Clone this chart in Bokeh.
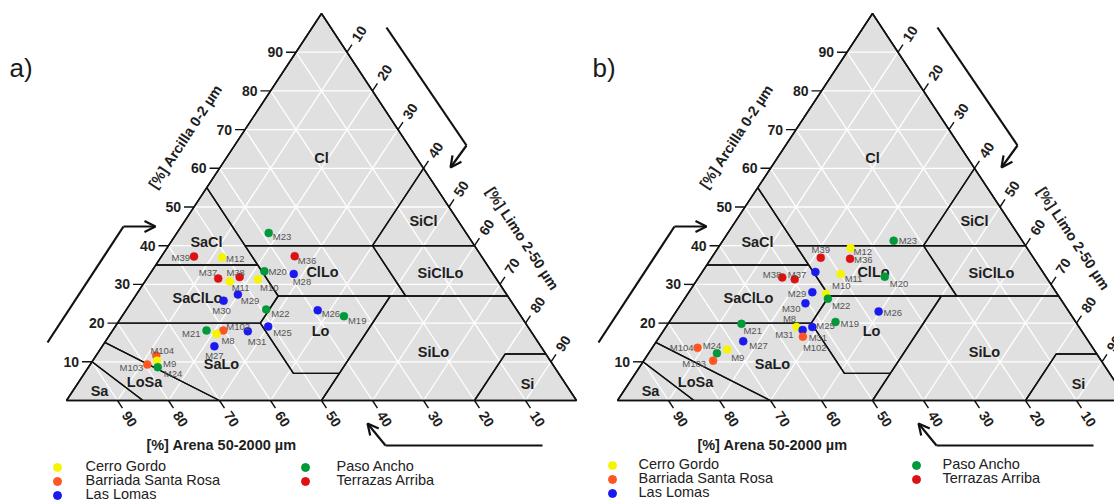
import math
from bokeh.plotting import figure
from bokeh.models import Range1d, Arrow, OpenHead
from bokeh.core.properties import value
from bokeh.embed import file_html
from bokeh.resources import INLINE

# ---------------- data ----------------
GROUPS = ["Cerro Gordo", "Barriada Santa Rosa", "Las Lomas", "Paso Ancho", "Terrazas Arriba"]
GROUP_COLORS = ["#f5f500", "#ff5522", "#1a1aee", "#00993a", "#dd1111"]
GROUP_MEMBERS = {
    "Cerro Gordo": ["M8", "M9", "M10", "M11", "M12"],
    "Barriada Santa Rosa": ["M102", "M103", "M104"],
    "Las Lomas": ["M25", "M26", "M27", "M28", "M29", "M30", "M31"],
    "Paso Ancho": ["M19", "M20", "M21", "M22", "M23", "M24"],
    "Terrazas Arriba": ["M36", "M37", "M38", "M39"],
}

# panel a) samples (percent)
a_names = ["M23", "M39", "M12", "M36", "M20", "M28", "M37", "M38", "M11", "M10", "M29", "M30",
           "M22", "M26", "M19", "M21", "M102", "M8", "M31", "M25", "M27", "M104", "M9", "M103", "M24"]
a_sand = [38.7, 56.4, 51.0, 36.6, 44.5, 39.1, 54.5, 50.1, 52.6, 46.8, 52.7, 56.3,
          49.1, 39.1, 34.7, 63.5, 60.2, 62.0, 55.5, 50.9, 64.0, 76.6, 77.1, 79.5, 77.8]
a_silt = [18.0, 6.4, 12.0, 26.1, 22.1, 28.2, 14.0, 18.0, 16.6, 21.9, 19.9, 17.9,
          27.4, 37.6, 43.5, 18.4, 21.7, 20.8, 26.6, 30.0, 22.0, 11.8, 12.6, 11.2, 13.6]
a_clay = [43.3, 37.2, 37.0, 37.3, 33.4, 32.7, 31.5, 31.9, 30.8, 31.3, 27.4, 25.8,
          23.5, 23.3, 21.8, 18.1, 18.1, 17.2, 17.9, 19.1, 14.0, 11.6, 10.3, 9.3, 8.6]

# panel b) samples (percent)
b_names = ["M23", "M12", "M39", "M36", "M38", "M37", "M28", "M11", "M20", "M29", "M30", "M10",
           "M22", "M26", "M19", "M25", "M8", "M31", "M102", "M21", "M27", "M104", "M24", "M9", "M103"]
b_sand = [25.2, 34.6, 41.7, 36.1, 51.8, 49.6, 44.6, 39.9, 31.6, 47.8, 50.6, 45.3,
          45.6, 37.3, 47.1, 52.3, 55.4, 54.6, 55.4, 65.8, 67.7, 77.5, 74.4, 71.9, 76.1]
b_silt = [33.5, 26.0, 21.4, 27.3, 16.4, 19.1, 22.2, 27.4, 36.4, 24.2, 24.3, 27.1,
          28.1, 39.7, 32.6, 28.7, 25.6, 27.2, 28.1, 14.4, 17.0, 8.9, 13.4, 14.9, 13.6]
b_clay = [41.3, 39.4, 36.9, 36.6, 31.8, 31.3, 33.2, 32.7, 32.0, 28.0, 25.1, 27.6,
          26.3, 23.0, 20.3, 19.0, 19.0, 18.2, 16.5, 19.8, 15.3, 13.6, 12.2, 13.2, 10.3]

TICKS = [10, 20, 30, 40, 50, 60, 70, 80, 90]
CLASS_NAMES = ["Cl", "SiCl", "SaCl", "ClLo", "SiClLo", "SaClLo", "Lo", "SiLo", "SaLo", "Si", "LoSa", "Sa"]
# USDA class polygons, vertices as (sand, silt, clay)
CLASS_POLYS = {
    "Cl": [(0, 0, 100), (0, 40, 60), (20, 40, 40), (45, 15, 40), (45, 0, 55)],
    "SiCl": [(0, 40, 60), (0, 60, 40), (20, 40, 40)],
    "SaCl": [(45, 0, 55), (45, 20, 35), (65, 0, 35)],
    "ClLo": [(20, 40, 40), (45, 15, 40), (45, 28, 27), (20, 53, 27)],
    "SiClLo": [(0, 60, 40), (20, 40, 40), (20, 53, 27), (0, 73, 27)],
    "SaClLo": [(65, 0, 35), (45, 20, 35), (45, 28, 27), (52, 28, 20), (80, 0, 20)],
    "Lo": [(45, 28, 27), (23, 50, 27), (43, 50, 7), (52, 41, 7), (52, 28, 20)],
    "SiLo": [(23, 50, 27), (0, 73, 27), (0, 88, 12), (8, 80, 12), (20, 80, 0), (50, 50, 0)],
    "Si": [(0, 88, 12), (8, 80, 12), (20, 80, 0), (0, 100, 0)],
    "SaLo": [(80, 0, 20), (52, 28, 20), (52, 41, 7), (43, 50, 7), (50, 50, 0), (70, 30, 0), (85, 0, 15)],
    "LoSa": [(85, 0, 15), (70, 30, 0), (85, 15, 0), (90, 0, 10)],
    "Sa": [(90, 0, 10), (85, 15, 0), (100, 0, 0)],
}
CLAY_TITLE = "[%] Arcilla 0-2 \u00b5m"
SILT_TITLE = "[%] Limo 2-50 \u00b5m"
SAND_TITLE = "[%] Arena 50-2000 \u00b5m"

# ---------------- layout / style ----------------
FIG_W, FIG_H = 1114, 503
W, H = 510.0, 387.0
FONT = "Liberation Sans"
ANG = math.degrees(math.atan2(H, W / 2))

# class label positions relative to the panel origin (bottom-left corner), px
CLASS_POS = {"Cl": (255, -243), "SiCl": (357, -180), "SaCl": (140, -159), "ClLo": (256, -129),
             "SiClLo": (374, -128), "SaClLo": (131, -103), "Lo": (254, -70), "SiLo": (367, -49),
             "SaLo": (155, -37), "Si": (461, -17), "LoSa": (78, -19), "Sa": (33, -10)}

# label offsets: (name, dx, dy, align)
a_lab = [("M23", 4, 4, "left"), ("M39", -4, 1, "right"), ("M12", 4, 1, "left"), ("M36", 3, 4, "left"),
         ("M20", 4, 0, "left"), ("M28", -1, 8, "left"), ("M37", -1, -6, "right"), ("M38", -4, -5, "center"),
         ("M11", 2, 6, "left"), ("M10", 2, 8, "left"), ("M29", 3, 6, "left"), ("M30", -2, 10, "center"),
         ("M22", 5, 4, "left"), ("M26", 4, 3, "left"), ("M19", 4, 4, "left"), ("M21", -6, 3, "right"),
         ("M102", 3, -4, "left"), ("M8", 5, 7, "left"), ("M31", 0, 10, "left"), ("M25", 5, 6, "left"),
         ("M27", 0, 9, "center"), ("M104", 6, -5, "center"), ("M9", 6, 3, "left"), ("M103", -4, 3, "right"),
         ("M24", 6, 6, "left")]
b_lab = [("M23", 5, 0, "left"), ("M12", 3, 3, "left"), ("M39", 0, -8, "center"), ("M36", 4, 1, "left"),
         ("M38", -1, -3, "right"), ("M37", -7, -5, "left"), ("M11", 4, 5, "left"), ("M20", 5, 7, "left"),
         ("M29", -6, 1, "right"), ("M30", -5, 5, "right"), ("M10", 6, -8, "left"), ("M22", 4, 7, "left"),
         ("M26", 5, 1, "left"), ("M19", 5, 2, "left"), ("M25", 4, -1, "left"), ("M8", -7, -8, "center"),
         ("M31", -9, 4, "right"), ("M31", 6, 7, "left"), ("M102", 0, 11, "left"), ("M21", 2, 7, "left"),
         ("M27", 6, 4, "left"), ("M104", -4, 0, "right"), ("M24", -5, -8, "center"), ("M9", 4, 8, "left"),
         ("M103", -7, 3, "right")]

p = figure(width=FIG_W, height=FIG_H, x_range=Range1d(0, FIG_W), y_range=Range1d(FIG_H, 0),
           output_backend="svg", toolbar_location=None, x_axis_location=None, y_axis_location=None,
           min_border=0, outline_line_color=None, background_fill_color="white",
           border_fill_color="white")
p.grid.visible = False


def tern(o, sand, silt, clay):
    return o[0] + W * (silt + clay / 2.0) / 100.0, o[1] - H * clay / 100.0


def group_of(n):
    for g, m in GROUP_MEMBERS.items():
        if n in m:
            return g
    return GROUPS[0]


def panel(o, names, sand, silt, clay, labs, tag, leg):
    ox, oy = o
    xs, ys = zip(*[tern(o, *v) for v in [(100, 0, 0), (0, 100, 0), (0, 0, 100)]])
    p.patch(list(xs), list(ys), fill_color="#e0e0e0", line_color=None)
    gx, gy = [], []
    for k in TICKS:
        for a, b in [((100 - k, 0, k), (0, 100 - k, k)), ((100 - k, k, 0), (0, k, 100 - k)),
                     ((k, 100 - k, 0), (k, 0, 100 - k))]:
            x1, y1 = tern(o, *a)
            x2, y2 = tern(o, *b)
            gx.append([x1, x2]); gy.append([y1, y2])
    p.multi_line(gx, gy, line_color="white", line_width=1.3)
    bx, by = [], []
    for c in CLASS_NAMES:
        pts = [tern(o, *v) for v in CLASS_POLYS[c]]
        pts.append(pts[0])
        bx.append([q[0] for q in pts]); by.append([q[1] for q in pts])
    p.multi_line(bx, by, line_color="#111111", line_width=1.4)
    p.patch(list(xs), list(ys), fill_color=None, line_color="#111111", line_width=1.6)
    p.text([ox + CLASS_POS[c][0] for c in CLASS_NAMES], [oy + CLASS_POS[c][1] for c in CLASS_NAMES],
           text=CLASS_NAMES, text_font=value(FONT), text_font_style="bold", text_font_size="14.5px",
           text_color="#1e1e1e", text_align="center", text_baseline="middle")
    ux, uy = 0.5 * W / math.hypot(W / 2, H), H / math.hypot(W / 2, H)
    tx, ty = [], []
    cl_x, cl_y, si_x, si_y, sa_x, sa_y = [], [], [], [], [], []
    for k in TICKS:
        x, y = tern(o, 100 - k, 0, k)
        tx.append([x - 10, x]); ty.append([y, y]); cl_x.append(x - 13); cl_y.append(y)
        x, y = tern(o, 0, k, 100 - k)
        tx.append([x, x + 9 * ux]); ty.append([y, y - 9 * uy])
        si_x.append(x + 22 * ux); si_y.append(y - 22 * uy)
        x, y = tern(o, k, 100 - k, 0)
        tx.append([x, x + 9 * ux]); ty.append([y, y + 9 * uy])
        sa_x.append(x + 22 * ux); sa_y.append(y + 22 * uy)
    p.multi_line(tx, ty, line_color="#111111", line_width=1.4)
    lab = [str(k) for k in TICKS]
    common = dict(text_font=value(FONT), text_font_style="bold", text_font_size="14px",
                  text_color="#1e1e1e", text_baseline="middle")
    p.text(cl_x, cl_y, text=lab, text_align="right", **common)
    p.text(si_x, si_y, text=lab, text_align="center", angle=ANG, angle_units="deg", **common)
    p.text(sa_x, sa_y, text=lab, text_align="center", angle=-ANG, angle_units="deg", **common)
    tcommon = dict(common, text_font_size="14.5px")
    p.text([ox + 119], [oy - 264], text=[CLAY_TITLE], text_align="center", angle=ANG,
           angle_units="deg", **tcommon)
    p.text([ox + 456], [oy - 162], text=[SILT_TITLE], text_align="center", angle=-ANG,
           angle_units="deg", **tcommon)
    p.text([ox + 155], [oy + 44], text=[SAND_TITLE], text_align="center", **tcommon)
    for path in ([(-19, -58), (57, -174), (89, -174)], [(320, -373), (400, -255), (384, -233)],
                 [(476, 45), (319, 45), (301, 23)]):
        p.line([ox + path[0][0], ox + path[1][0]], [oy + path[0][1], oy + path[1][1]],
               line_color="#111111", line_width=2.2)
        p.add_layout(Arrow(x_start=ox + path[1][0], y_start=oy + path[1][1],
                           x_end=ox + path[2][0], y_end=oy + path[2][1],
                           line_color="#111111", line_width=2.2,
                           end=OpenHead(size=11, line_width=2.2, line_color="#111111")))
    pos = {}
    for n, s, si, c in zip(names, sand, silt, clay):
        pos[n] = tern(o, s, si, c)
    px = [pos[n][0] for n in names]
    py = [pos[n][1] for n in names]
    cols = [GROUP_COLORS[GROUPS.index(group_of(n))] for n in names]
    p.scatter(px, py, size=8, fill_color=cols, line_color=cols, line_width=0.5)
    for al in ("left", "right", "center"):
        sel = [l for l in labs if l[3] == al]
        if not sel:
            continue
        p.text([pos[l[0]][0] + l[1] for l in sel], [pos[l[0]][1] + l[2] for l in sel],
               text=[l[0] for l in sel], text_font=value(FONT), text_font_size="9.5px",
               text_color="#555555", text_align=al, text_baseline="middle")
    p.text([tag[1]], [67], text=[tag[0]], text_font=value(FONT), text_font_size="26px",
           text_color="#1a1a1a", text_baseline="middle", text_align="left")
    (m1, t1, m2, t2, rows) = leg
    lx = [m1, m1, m1, m2, m2]
    ly = [rows[0], rows[1], rows[2], rows[0], rows[1]]
    p.scatter(lx, [v + 2 for v in ly], size=8, fill_color=GROUP_COLORS, line_color=GROUP_COLORS)
    p.text([t1, t1, t1, t2, t2], ly, text=GROUPS, text_font=value(FONT), text_font_size="14.5px",
           text_color="#222222", text_baseline="middle", text_align="left")


panel((66, 400), a_names, a_sand, a_silt, a_clay, a_lab, ("a)", 9), (57, 85, 305, 336, (465, 479, 493)))
panel((617, 400), b_names, b_sand, b_silt, b_clay, b_lab, ("b)", 592), (612, 638, 916, 942, (463, 477, 491)))

open("out.html", "w").write(file_html(p, INLINE))
